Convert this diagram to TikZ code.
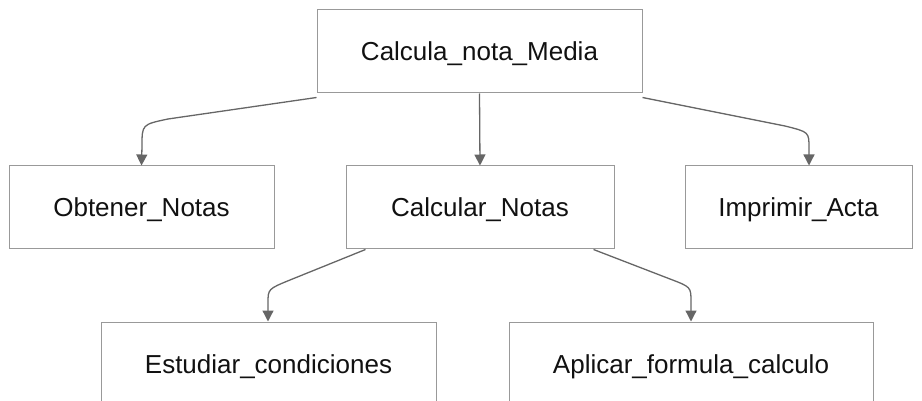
\documentclass[tikz,border=0pt]{standalone}
\usepackage{fontspec}
\setmainfont{Liberation Sans}
\usetikzlibrary{arrows.meta,calc}

\definecolor{boxedge}{HTML}{999999}
\definecolor{linkline}{HTML}{666666}
\definecolor{labeltext}{HTML}{111111}

\tikzset{
  task/.style={draw=boxedge, line width=1pt, fill=white, rectangle,
    minimum height=83pt, inner sep=0pt, text=labeltext,
    text height=19pt, text depth=0pt,
    font=\fontsize{26}{30}\selectfont},
  link/.style={draw=linkline, line width=1.3pt,
    -{Triangle[length=11pt,width=11pt]}},
}

\begin{document}
\begin{tikzpicture}[x=1pt, y=-1pt]
  \useasboundingbox (0,0) rectangle (922,401);

  % module tree
  \node[task, minimum width=325pt] (main) at (479.5,51.5) {Calcula\_nota\_Media};
  \node[task, minimum width=265pt] (obt)  at (141.5,207.5) {Obtener\_Notas};
  \node[task, minimum width=268pt] (calc) at (480,207.5)   {Calcular\_Notas};
  \node[task, minimum width=227pt] (imp)  at (798.5,207.5) {Imprimir\_Acta};
  \node[task, minimum width=335pt] (est)  at (268.5,363.5) {Estudiar\_condiciones};
  \node[task, minimum width=364pt] (apl)  at (691,363.5)   {Aplicar\_formula\_calculo};

  % first level links
  \draw[link] ([yshift=-4pt]main.south west) -- (168,119)
    .. controls (142,124.5) .. (142,146) -- (obt.north);
  \draw[link] (main.south) -- (calc.north);
  \draw[link] ([yshift=-4pt]main.south east) -- (785,126)
    .. controls (809,132) .. (809,148) -- (imp.north -| 809,0);

  % second level links
  \draw[link] ([xshift=20pt]calc.south west) -- (290,280)
    .. controls (268,289) .. (268,303) -- (est.north -| 268,0);
  \draw[link] ([xshift=-21pt]calc.south east) -- (670,279)
    .. controls (691,287) .. (691,302) -- (apl.north);
\end{tikzpicture}
\end{document}
